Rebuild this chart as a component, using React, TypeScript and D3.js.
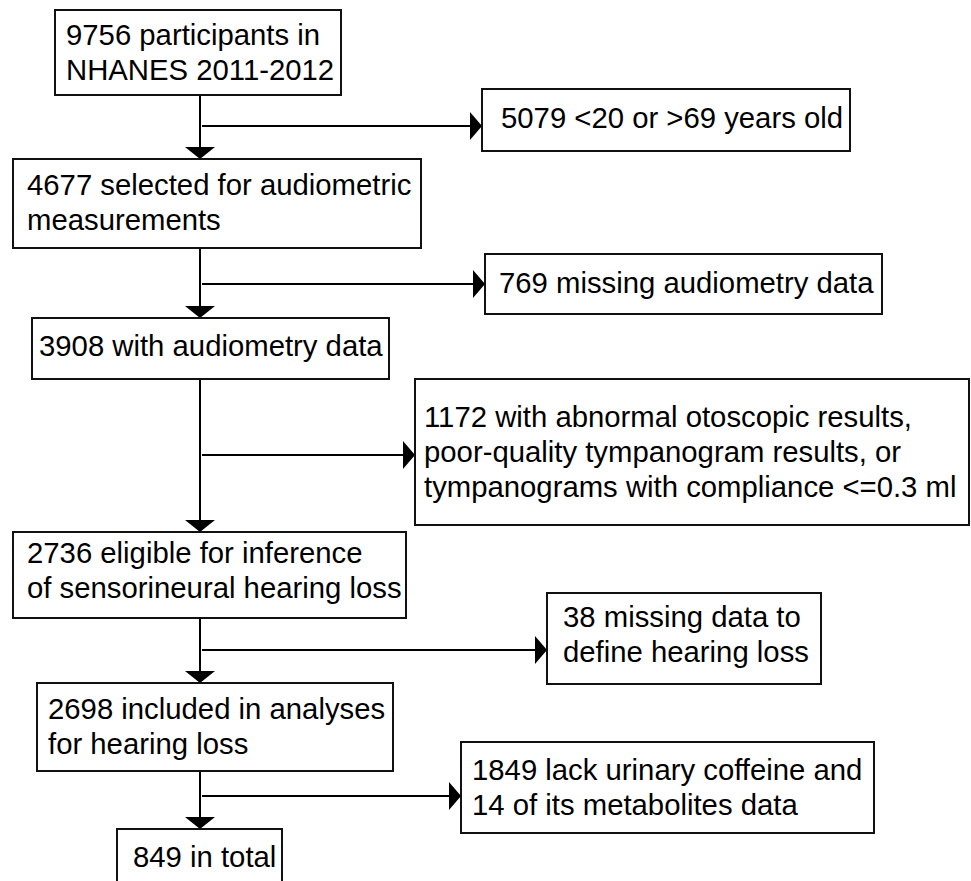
import { useEffect, useRef } from 'react';
import * as d3 from 'd3';

// flow counts and labels
const mainCounts = [9756, 4677, 3908, 2736, 2698, 849];
const mainLabels = [
  ['participants in', 'NHANES 2011-2012'],
  ['selected for audiometric', 'measurements'],
  ['with audiometry data'],
  ['eligible for inference', 'of sensorineural hearing loss'],
  ['included in analyses', 'for hearing loss'],
  ['in total'],
];

const excludedCounts = [5079, 769, 1172, 38, 1849];
const excludedLabels = [
  ['<20 or >69 years old'],
  ['missing audiometry data'],
  ['with abnormal otoscopic results,', 'poor-quality tympanogram results, or', 'tympanograms with compliance <=0.3 ml'],
  ['missing data to', 'define hearing loss'],
  ['lack urinary coffeine and', '14 of its metabolites data'],
];

// layout (pixels): box rect, text x, first baseline
const mainLayout = [
  { x0: 55, y0: 10, x1: 341, y1: 95, tx: 66, ty: 45 },
  { x0: 13, y0: 159, x1: 421, y1: 248, tx: 27, ty: 195 },
  { x0: 32, y0: 318, x1: 389, y1: 379, tx: 39, ty: 356 },
  { x0: 13, y0: 532, x1: 406, y1: 618, tx: 27, ty: 563 },
  { x0: 37, y0: 683, x1: 393, y1: 771, tx: 48, ty: 719 },
  { x0: 117, y0: 829, x1: 282, y1: 900, tx: 133, ty: 867 },
];
const excludedLayout = [
  { x0: 482, y0: 89, x1: 850, y1: 151, tx: 501, ty: 128, ay: 126 },
  { x0: 485, y0: 254, x1: 882, y1: 314, tx: 499, ty: 293, ay: 284 },
  { x0: 415, y0: 379, x1: 969, y1: 525, tx: 424, ty: 427, ay: 455 },
  { x0: 547, y0: 593, x1: 821, y1: 684, tx: 563, ty: 627, ay: 650 },
  { x0: 461, y0: 742, x1: 874, y1: 833, tx: 472, ty: 780, ay: 796 },
];

const W = 971;
const H = 881;
const spineX = 200;
const lineH = 35;
const font = '"Liberation Sans", Arial, sans-serif';

export default function App() {
  const svgRef = useRef<SVGSVGElement>(null);

  useEffect(() => {
    if (!svgRef.current) return;
    const svg = d3.select(svgRef.current);
    svg.selectAll('*').remove();

    svg.append('rect').attr('width', W).attr('height', H).attr('fill', '#fff');

    const line = d3.line<[number, number]>();

    const drawBox = (g: any, b: any, count: number, lines: string[]) => {
      g.append('rect')
        .attr('x', b.x0)
        .attr('y', b.y0)
        .attr('width', b.x1 - b.x0)
        .attr('height', b.y1 - b.y0)
        .attr('fill', '#fff')
        .attr('stroke', '#111')
        .attr('stroke-width', 2);
      lines.forEach((t, i) => {
        g.append('text')
          .attr('x', b.tx)
          .attr('y', b.ty + i * lineH)
          .style('font-family', font)
          .style('font-size', '29.3px')
          .style('fill', '#000')
          .text(i === 0 ? `${count} ${t}` : t);
      });
    };

    const g = svg.append('g');

    // spine segments with down arrows
    mainLayout.slice(1).forEach((b, i) => {
      const prev = mainLayout[i];
      g.append('path')
        .attr('d', line([[spineX, prev.y1], [spineX, b.y0 - 8]]))
        .attr('stroke', '#000')
        .attr('stroke-width', 2)
        .attr('fill', 'none');
      g.append('path')
        .attr('d', `M${spineX - 15},${b.y0 - 12} L${spineX + 15},${b.y0 - 12} L${spineX},${b.y0} Z`)
        .attr('fill', '#000');
    });

    // side branches to excluded boxes
    excludedLayout.forEach((e) => {
      g.append('path')
        .attr('d', line([[spineX + 2, e.ay], [e.x0 - 8, e.ay]]))
        .attr('stroke', '#000')
        .attr('stroke-width', 2)
        .attr('fill', 'none');
      g.append('path')
        .attr('d', `M${e.x0 - 12},${e.ay - 14} L${e.x0},${e.ay} L${e.x0 - 12},${e.ay + 14} Z`)
        .attr('fill', '#000');
    });

    mainLayout.forEach((b, i) => drawBox(g, b, mainCounts[i], mainLabels[i]));
    excludedLayout.forEach((b, i) => drawBox(g, b, excludedCounts[i], excludedLabels[i]));
  }, []);

  return (
    <svg
      ref={svgRef}
      width={W}
      height={H}
      style={{ position: 'absolute', left: 0, top: 0, display: 'block' }}
    />
  );
}
